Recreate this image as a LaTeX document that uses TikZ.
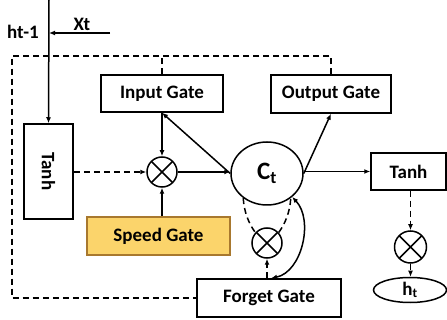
\documentclass[tikz,border=0pt]{standalone}
\usepackage{fontspec}
\setmainfont{Carlito}
\usetikzlibrary{arrows.meta,shapes.geometric}
\definecolor{speedfill}{HTML}{FBD46B}
\definecolor{speededge}{HTML}{A8782E}
\begin{document}
\begin{tikzpicture}[x=1pt,y=-1pt,
  every node/.style={font=\bfseries\fontsize{19}{22}\selectfont},
  gate/.style={draw,line width=1.5pt,rectangle,inner sep=0pt},
  mult/.style={draw,line width=1.5pt,circle,inner sep=0pt,minimum size=30pt,
    path picture={\draw[line width=1.5pt] (path picture bounding box.north west) -- (path picture bounding box.south east)
      (path picture bounding box.north east) -- (path picture bounding box.south west);}},
  link/.style={line width=1.5pt,-{Latex[length=6pt,width=5pt]}},
  dlink/.style={line width=1.5pt,dash pattern=on 6pt off 4pt,-{Latex[length=6pt,width=5pt]}},
  dline/.style={line width=1.5pt,dash pattern=on 6pt off 4pt},
]
\useasboundingbox (0,0) rectangle (447,320);

% boxes
\node[gate,minimum width=122pt,minimum height=37pt] (ing) at (162,93.5) {Input Gate};
\node[gate,minimum width=120pt,minimum height=38pt] (outg) at (331,94) {Output Gate};
\node[gate,minimum width=49pt,minimum height=95pt] (tanhl) at (48.5,171.5) {};
\node[rotate=-90] (tanhltxt) at (tanhl.center) {Tanh};
\node[gate,draw=speededge,fill=speedfill,minimum width=143pt,minimum height=38pt] (speed) at (158.5,236) {Speed Gate};
\node[gate,minimum width=75pt,minimum height=37pt] (tanhr) at (408.5,171.5) {Tanh};
\node[gate,minimum width=144pt,minimum height=38pt] (forget) at (269,298) {Forget Gate};

% cell state and output
\node[draw,line width=1.5pt,ellipse,inner sep=0pt,minimum width=72pt,minimum height=63pt,
  font=\bfseries\fontsize{25}{28}\selectfont] (ct) at (267,173.5) {C\textsubscript{t}};
\node[draw,line width=1.5pt,ellipse,inner sep=0pt,minimum width=73pt,minimum height=25pt] (ht) at (410,290) {h\textsubscript{t}};

% multipliers
\node[mult] (m1) at (162,172) {};
\node[mult] (m2) at (267,243) {};
\node[mult,minimum size=32pt] (m3) at (410.5,247) {};

% inputs
\node (hlab) at (23,32) {ht-1};
\node (xlab) at (82,24) {Xt};
\coordinate (htop) at (49,0);
\coordinate (xin) at (110,33);
\coordinate (xjoin) at (49,33);
\coordinate (ctl) at (12,56);
\draw[link] (htop) -- (tanhl.north);
\draw[link] (xin) -- (xjoin);

% recurrent dashed loop
\draw[dline] (outg.north) |- (ctl) |- (forget.west);
\draw[dline] (ing.north) -- (ing.north |- ctl);

% connections around the first multiplier
\draw[dlink] (tanhl.east |- m1) -- (m1.west);
\draw[link] (ing.south) -- (m1.north);
\draw[link] (speed.north -| m1) -- (m1.south);
\draw[link] (m1.east) -- (ct.west |- m1);
\draw[link] (ct.west) -- (ing.south);

% outputs of the cell state
\draw[link] (ct.east) -- (outg.south);
\draw[link] (ct.east |- tanhr.west) -- (tanhr.west);
\draw[dlink] (tanhr.south -| m3) -- (m3.north);
\draw[dlink] (m3.south) -- (ht.north -| m3);

% forget path
\draw[dline] (ct.226) .. controls (244,212) and (249,224) .. (m2.138);
\draw[dline] (m2.42) .. controls (285,224) and (290,212) .. (ct.314);
\draw[dlink] (forget.north -| m2) -- (m2.south);
\draw[line width=1.5pt,{Latex[length=6pt,width=5pt]}-{Latex[length=6pt,width=5pt]}]
  ([xshift=2pt]forget.north) .. controls (302,272) and (314,220) .. (ct.317);
\end{tikzpicture}
\end{document}
